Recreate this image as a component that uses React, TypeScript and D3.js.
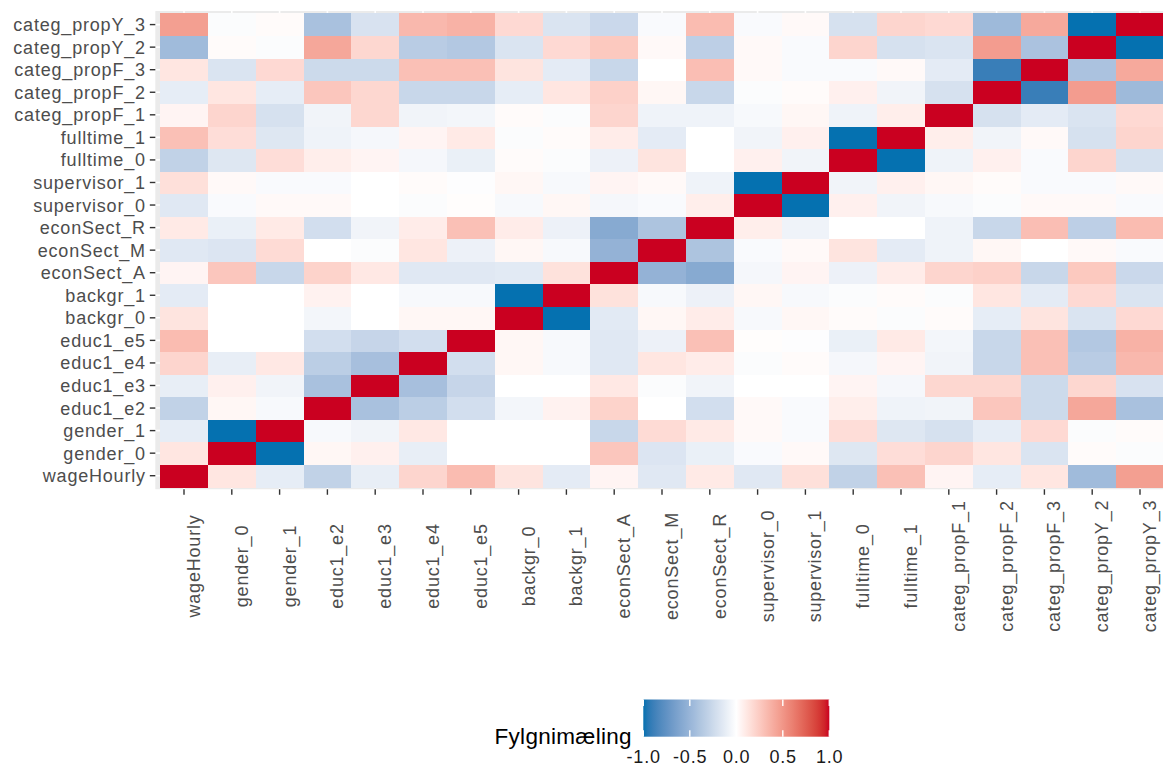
import React from "react";
import * as d3 from "d3";

const variables = [
  "wageHourly", "gender_0", "gender_1", "educ1_e2", "educ1_e3", "educ1_e4", "educ1_e5",
  "backgr_0", "backgr_1", "econSect_A", "econSect_M", "econSect_R",
  "supervisor_0", "supervisor_1", "fulltime_0", "fulltime_1",
  "categ_propF_1", "categ_propF_2", "categ_propF_3", "categ_propY_2", "categ_propY_3",
];

// correlation matrix, rows/cols in the order of `variables`
const correlations = [
  [1, 0.12, -0.12, -0.30, -0.11, 0.20, 0.32, 0.13, -0.13, 0.05, -0.15, 0.10, -0.15, 0.15, -0.30, 0.30, 0.05, -0.12, 0.12, -0.46, 0.46],
  [0.12, 1, -1, 0.04, 0.07, -0.11, 0.00, 0.00, 0.00, 0.27, -0.17, -0.10, -0.03, 0.03, -0.16, 0.16, 0.20, 0.12, -0.18, 0.02, -0.02],
  [-0.12, -1, 1, -0.04, -0.07, 0.11, 0.00, 0.00, 0.00, -0.27, 0.17, 0.10, 0.03, -0.03, 0.16, -0.16, -0.20, -0.12, 0.18, -0.02, 0.02],
  [-0.30, 0.04, -0.04, 1, -0.42, -0.33, -0.22, -0.06, 0.06, 0.21, 0.00, -0.22, 0.03, -0.03, 0.08, -0.08, -0.07, 0.27, -0.25, 0.42, -0.42],
  [-0.11, 0.07, -0.07, -0.42, 1, -0.43, -0.28, 0.00, 0.00, 0.11, -0.02, -0.07, 0.00, 0.00, 0.05, -0.05, 0.19, 0.19, -0.25, 0.19, -0.19],
  [0.20, -0.11, 0.11, -0.33, -0.43, 1, -0.22, 0.04, -0.04, -0.15, 0.12, 0.09, -0.02, 0.02, -0.05, 0.05, -0.07, -0.27, 0.30, -0.34, 0.34],
  [0.32, 0.00, 0.00, -0.22, -0.28, -0.22, 1, 0.04, -0.04, -0.15, -0.09, 0.30, 0.01, -0.01, -0.10, 0.10, -0.06, -0.27, 0.30, -0.37, 0.37],
  [0.13, 0.00, 0.00, -0.06, 0.00, 0.04, 0.04, 1, -1, -0.14, 0.04, 0.09, -0.04, 0.04, 0.02, -0.02, 0.02, -0.12, 0.13, -0.18, 0.18],
  [-0.13, 0.00, 0.00, 0.06, 0.00, -0.04, -0.04, -1, 1, 0.14, -0.04, -0.09, 0.04, -0.04, -0.02, 0.02, -0.02, 0.12, -0.13, 0.18, -0.18],
  [0.05, 0.27, -0.27, 0.21, 0.11, -0.15, -0.15, -0.14, 0.14, 1, -0.52, -0.58, -0.05, 0.05, -0.09, 0.09, 0.20, 0.22, -0.27, 0.26, -0.26],
  [-0.15, -0.17, 0.17, 0.00, -0.02, 0.12, -0.09, 0.04, -0.04, -0.52, 1, -0.40, -0.03, 0.03, 0.13, -0.13, -0.08, 0.04, 0.00, 0.03, -0.03],
  [0.10, -0.10, 0.10, -0.22, -0.07, 0.09, 0.30, 0.09, -0.09, -0.58, -0.40, 1, 0.08, -0.08, 0.00, 0.00, -0.08, -0.27, 0.31, -0.32, 0.32],
  [-0.15, -0.03, 0.03, 0.03, 0.00, -0.02, 0.01, -0.04, 0.04, -0.05, -0.03, 0.08, 1, -1, 0.07, -0.07, -0.04, -0.02, 0.03, 0.03, -0.03],
  [0.15, 0.03, -0.03, -0.03, 0.00, 0.02, -0.01, 0.04, -0.04, 0.05, 0.03, -0.08, -1, 1, -0.07, 0.07, 0.04, 0.02, -0.03, -0.03, 0.03],
  [-0.30, -0.16, 0.16, 0.08, 0.05, -0.05, -0.10, 0.02, -0.02, -0.09, 0.13, 0.00, 0.07, -0.07, 1, -1, -0.08, 0.07, -0.03, 0.20, -0.20],
  [0.30, 0.16, -0.16, -0.08, -0.05, 0.05, 0.10, -0.02, 0.02, 0.09, -0.13, 0.00, -0.07, 0.07, -1, 1, 0.08, -0.07, 0.03, -0.20, 0.20],
  [0.05, 0.20, -0.20, -0.07, 0.19, -0.07, -0.06, 0.02, -0.02, 0.20, -0.08, -0.08, -0.04, 0.04, -0.08, 0.08, 1, -0.20, -0.13, -0.18, 0.18],
  [-0.12, 0.12, -0.12, 0.27, 0.19, -0.27, -0.27, -0.12, 0.12, 0.22, 0.04, -0.27, -0.02, 0.02, 0.07, -0.07, -0.20, 1, -0.90, 0.47, -0.47],
  [0.12, -0.18, 0.18, -0.25, -0.25, 0.30, 0.30, 0.13, -0.13, -0.27, 0.00, 0.31, 0.03, -0.03, -0.03, 0.03, -0.13, -0.90, 1, -0.41, 0.41],
  [-0.46, 0.02, -0.02, 0.42, 0.19, -0.34, -0.37, -0.18, 0.18, 0.26, 0.03, -0.32, 0.03, -0.03, 0.20, -0.20, -0.18, 0.47, -0.41, 1, -1],
  [0.46, -0.02, 0.02, -0.42, -0.19, 0.34, 0.37, 0.18, -0.18, -0.26, -0.03, 0.32, -0.03, 0.03, -0.20, 0.20, 0.18, -0.47, 0.41, -1, 1],
];

const legendTicks = [-1, -0.5, 0, 0.5, 1];
const legendTitle = "Fylgnimæling";

const W = 1163;
const H = 767;
const FONT = "'Liberation Sans', Arial, Helvetica, sans-serif";

export default function App() {
  const tileLeft = 160.1;
  const tileRight = 1163.9;
  const tileTop = 13.3;
  const tileBottom = 487.0;

  const x = d3.scaleBand<string>().domain(variables).range([tileLeft, tileRight]).padding(0);
  const y = d3
    .scaleBand<string>()
    .domain(variables.slice().reverse())
    .range([tileTop, tileBottom])
    .padding(0);

  const bw = x.bandwidth();
  const bh = y.bandwidth();
  const panelLeft = tileLeft - 0.1 * bw;
  const panelRight = tileRight + 0.1 * bw;
  const panelTop = tileTop - 0.1 * bh;
  const panelBottom = tileBottom + 0.1 * bh;

  const color = d3
    .scaleLinear<string>()
    .domain([-1, 0, 1])
    .range(["#0571B0", "#FFFFFF", "#CA0020"])
    .interpolate(d3.interpolateLab)
    .clamp(true);

  const cells: { r: string; c: string; v: number }[] = [];
  variables.forEach((rv, i) => {
    variables.forEach((cv, j) => {
      cells.push({ r: rv, c: cv, v: correlations[i][j] });
    });
  });

  // legend
  const barLeft = 643.3;
  const barRight = 829.3;
  const barTop = 699.5;
  const barBottom = 736.7;
  const lx = d3.scaleLinear().domain([-1, 1]).range([barLeft, barRight]);
  const gradStops = d3.range(0, 41).map((k) => -1 + (2 * k) / 40);

  const tickColor = "#333333";
  const labelColor = "#4D4D4D";

  return (
    <svg
      width={W}
      height={H}
      viewBox={`0 0 ${W} ${H}`}
      style={{ position: "absolute", left: 0, top: 0, background: "#fff" }}
      fontFamily={FONT}
    >
      <defs>
        <linearGradient id="cbar" x1="0" x2="1" y1="0" y2="0">
          {gradStops.map((v, k) => (
            <stop key={k} offset={`${(k / 40) * 100}%`} stopColor={color(v)} />
          ))}
        </linearGradient>
      </defs>
      <rect x={0} y={0} width={W} height={H} fill="#FFFFFF" />
      {/* panel */}
      <rect
        x={panelLeft}
        y={panelTop}
        width={panelRight - panelLeft}
        height={panelBottom - panelTop}
        fill="#EBEBEB"
      />
      {variables.map((v) => (
        <line
          key={"gx" + v}
          x1={(x(v) as number) + bw / 2}
          x2={(x(v) as number) + bw / 2}
          y1={panelTop}
          y2={panelBottom}
          stroke="#FFFFFF"
          strokeWidth={1.6}
        />
      ))}
      {variables.map((v) => (
        <line
          key={"gy" + v}
          y1={(y(v) as number) + bh / 2}
          y2={(y(v) as number) + bh / 2}
          x1={panelLeft}
          x2={panelRight}
          stroke="#FFFFFF"
          strokeWidth={1.6}
        />
      ))}
      {/* tiles */}
      <g shapeRendering="crispEdges">
        {cells.map((d, k) => (
          <rect
            key={k}
            x={x(d.c)}
            y={y(d.r)}
            width={bw + 0.5}
            height={bh + 0.5}
            fill={color(d.v)}
          />
        ))}
      </g>
      {/* y axis */}
      {variables.map((v) => {
        const cy = (y(v) as number) + bh / 2;
        return (
          <g key={"ya" + v}>
            <line x1={panelLeft - 5.5} x2={panelLeft} y1={cy} y2={cy} stroke={tickColor} strokeWidth={1.4} />
            <text
              x={panelLeft - 9.5}
              y={cy}
              dy="0.36em"
              textAnchor="end"
              fontSize={18}
              letterSpacing={0.8}
              fill={labelColor}
            >
              {v}
            </text>
          </g>
        );
      })}
      {/* x axis */}
      {variables.map((v) => {
        const cx = (x(v) as number) + bw / 2;
        return (
          <g key={"xa" + v}>
            <line x1={cx} x2={cx} y1={panelBottom} y2={panelBottom + 5.5} stroke={tickColor} strokeWidth={1.4} />
            <text
              transform={`translate(${cx + 16},566) rotate(-90)`}
              textAnchor="middle"
              fontSize={18}
              letterSpacing={0.8}
              fill={labelColor}
            >
              {v}
            </text>
          </g>
        );
      })}
      {/* legend */}
      <text x={494.5} y={743.5} fontSize={22.5} letterSpacing={0.3} fill="#000000">
        {legendTitle}
      </text>
      <rect x={barLeft} y={barTop} width={barRight - barLeft} height={barBottom - barTop} fill="url(#cbar)" />
      {legendTicks.map((t) => (
        <g key={"lt" + t}>
          <line x1={lx(t)} x2={lx(t)} y1={barTop} y2={barTop + 6.5} stroke="#FFFFFF" strokeWidth={1.4} />
          <line x1={lx(t)} x2={lx(t)} y1={barBottom - 6.5} y2={barBottom} stroke="#FFFFFF" strokeWidth={1.4} />
          <text
            x={lx(t) + 0.4}
            y={763.2}
            textAnchor="middle"
            fontSize={18}
            letterSpacing={0.8}
            fill="#1A1A1A"
          >
            {t.toFixed(1)}
          </text>
        </g>
      ))}
    </svg>
  );
}
